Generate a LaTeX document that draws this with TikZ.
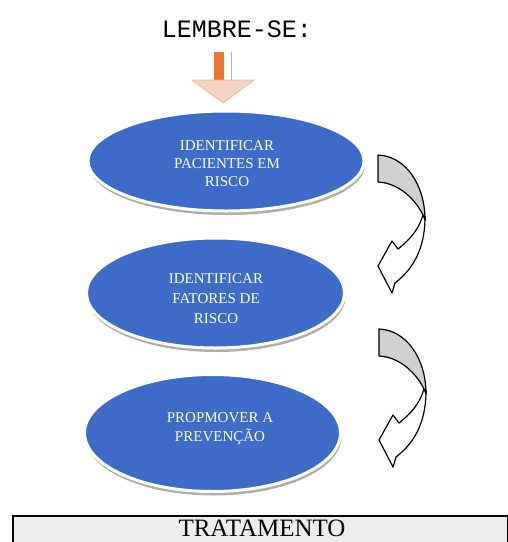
\documentclass[tikz,border=0pt]{standalone}
\usepackage{fontspec}
\setmainfont{Liberation Serif}
\newfontfamily\monof{Liberation Mono}
\usetikzlibrary{shapes.geometric,shadows}
\definecolor{ellblue}{RGB}{60,108,200}
\definecolor{arrorange}{RGB}{232,117,48}
\definecolor{arrpeach}{RGB}{244,212,194}
\definecolor{backgray}{RGB}{208,208,208}
\definecolor{boxgray}{RGB}{236,236,236}
\tikzset{
  ell/.style={ellipse, fill=ellblue, draw=white, line width=3pt, inner sep=0pt,
    drop shadow={shadow xshift=1pt, shadow yshift=-4pt, fill=black!45, opacity=0.7}},
  elltext/.style={text=white, align=center, inner sep=0pt, font=\fontsize{15}{#1}\selectfont},
  arrline/.style={draw=black, line width=1.2pt, line join=round},
  curvarrow/.pic={
    \filldraw[arrline, fill=white] (47,62) .. controls (47,95) and (34,115) .. (17,128)
      -- (14,138) -- (0,111) -- (14,86) -- (20,94)
      .. controls (34,83) and (42,72) .. (45.5,58) -- cycle;
    \filldraw[arrline, fill=backgray] (0,0) .. controls (27,1) and (47,29) .. (47,65)
      .. controls (42,50) and (24,28) .. (0,27) -- cycle;
  }
}
\begin{document}
\begin{tikzpicture}[x=1pt,y=-1pt]
\useasboundingbox (0,0) rectangle (508,542);
\clip (0,0) rectangle (508,542);
% title
\node[font=\monof\fontsize{25}{28}\selectfont, anchor=base] (title) at (237,37) {LEMBRE-SE:};
% down block arrow
\fill[arrorange] (214,52) rectangle (224,82);
\draw[gray!60, line width=1pt] (231,52) -- (231,80);
\filldraw[fill=arrpeach, draw=arrpeach!70!brown, line width=0.8pt, line join=round] (192,80) -- (254,80) -- (223,103) -- cycle;
% ellipses
\node[ell, minimum width=276pt, minimum height=100pt] (e1) at (226,161) {};
\node[ell, minimum width=258pt, minimum height=110pt] (e2) at (215.5,293) {};
\node[ell, minimum width=256pt, minimum height=117pt] (e3) at (212.5,433) {};
\node[elltext=18] (t1) at (227,163.5) {IDENTIFICAR\\PACIENTES EM\\RISCO};
\node[elltext=20] (t2) at (216,299) {IDENTIFICAR\\FATORES DE\\RISCO};
\node[elltext=19] (t3) at (220,429) {PROPMOVER A\\PREVENÇÃO};
% curved arrows
\pic at (378,155) {curvarrow};
\pic at (379,329) {curvarrow};
% bottom box
\node[draw=black, line width=1.5pt, fill=boxgray, minimum width=495pt, minimum height=60pt, anchor=north west, inner sep=0pt] (tbox) at (12,515) {};
\node[font=\fontsize{25}{30}\selectfont, anchor=base, inner sep=0pt] (ttext) at (262,536.5) {TRATAMENTO};
\end{tikzpicture}
\end{document}
